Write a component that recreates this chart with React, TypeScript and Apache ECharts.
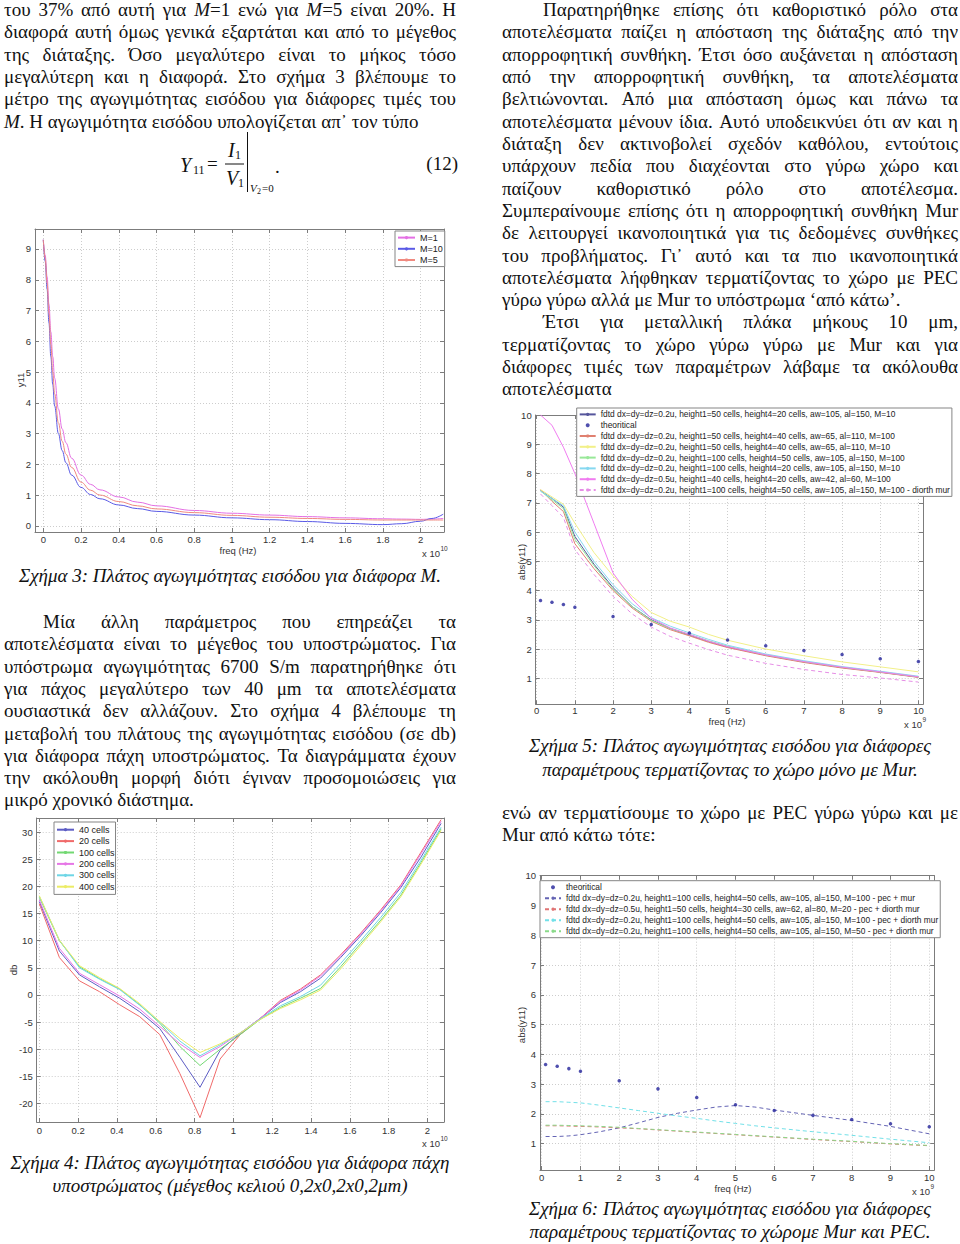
import React, { useEffect, useRef } from 'react';
import * as echarts from 'echarts';

// ================= TEXT CONTENT =================
type Ln = { t: string; indent?: boolean; last?: boolean };

const topLeftLines: Ln[] = [
  { t: 'του 37% από αυτή για *M*=1 ενώ για *M*=5 είναι 20%. Η' },
  { t: 'διαφορά αυτή όμως γενικά εξαρτάται και από το μέγεθος' },
  { t: 'της διάταξης. Όσο μεγαλύτερο είναι το μήκος τόσο' },
  { t: 'μεγαλύτερη και η διαφορά. Στο σχήμα 3 βλέπουμε το' },
  { t: 'μέτρο της αγωγιμότητας εισόδου για διάφορες τιμές του' },
  { t: '*M*. Η αγωγιμότητα εισόδου υπολογίζεται απ᾽ τον τύπο', last: true },
];

const topRightLines: Ln[] = [
  { t: 'Παρατηρήθηκε επίσης ότι καθοριστικό ρόλο στα', indent: true },
  { t: 'αποτελέσματα παίζει η απόσταση της διάταξης από την' },
  { t: 'απορροφητική συνθήκη. Έτσι όσο αυξάνεται η απόσταση' },
  { t: 'από την απορροφητική συνθήκη, τα αποτελέσματα' },
  { t: 'βελτιώνονται. Από μια απόσταση όμως και πάνω τα' },
  { t: 'αποτελέσματα μένουν ίδια. Αυτό υποδεικνύει ότι αν και η' },
  { t: 'διάταξη δεν ακτινοβολεί σχεδόν καθόλου, εντούτοις' },
  { t: 'υπάρχουν πεδία που διαχέονται στο γύρω χώρο και' },
  { t: 'παίζουν καθοριστικό ρόλο στο αποτέλεσμα.' },
  { t: 'Συμπεραίνουμε επίσης ότι η απορροφητική συνθήκη Mur' },
  { t: 'δε λειτουργεί ικανοποιητικά για τις δεδομένες συνθήκες' },
  { t: 'του προβλήματος. Γι᾽ αυτό και τα πιο ικανοποιητικά' },
  { t: 'αποτελέσματα λήφθηκαν τερματίζοντας το χώρο με PEC' },
  { t: 'γύρω γύρω αλλά με Mur το υπόστρωμα ‘από κάτω’.', last: true },
  { t: 'Έτσι για μεταλλική πλάκα μήκους 10 μm,', indent: true },
  { t: 'τερματίζοντας το χώρο γύρω γύρω με Mur και για' },
  { t: 'διάφορες τιμές των παραμέτρων λάβαμε τα ακόλουθα' },
  { t: 'αποτελέσματα', last: true },
];

const midLeftLines: Ln[] = [
  { t: 'Μία άλλη παράμετρος που επηρεάζει τα', indent: true },
  { t: 'αποτελέσματα είναι το μέγεθος του υποστρώματος. Για' },
  { t: 'υπόστρωμα αγωγιμότητας 6700 S/m παρατηρήθηκε ότι' },
  { t: 'για πάχος μεγαλύτερο των 40 μm τα αποτελέσματα' },
  { t: 'ουσιαστικά δεν αλλάζουν. Στο σχήμα 4 βλέπουμε τη' },
  { t: 'μεταβολή του πλάτους της αγωγιμότητας εισόδου (σε db)' },
  { t: 'για διάφορα πάχη υποστρώματος. Τα διαγράμματα έχουν' },
  { t: 'την ακόλουθη μορφή διότι έγιναν προσομοιώσεις για' },
  { t: 'μικρό χρονικό διάστημα.', last: true },
];

const midRightLines: Ln[] = [
  { t: 'ενώ αν τερματίσουμε το χώρο με PEC γύρω γύρω και με' },
  { t: 'Mur από κάτω τότε:', last: true },
];

const caption3 = ['Σχήμα 3: Πλάτος αγωγιμότητας εισόδου για διάφορα M.'];
const caption4 = ['Σχήμα 4: Πλάτος αγωγιμότητας εισόδου για διάφορα πάχη', 'υποστρώματος (μέγεθος κελιού 0,2x0,2x0,2μm)'];
const caption5 = ['Σχήμα 5: Πλάτος αγωγιμότητας εισόδου για διάφορες', 'παραμέτρους τερματίζοντας το χώρο μόνο με Mur.'];
const caption6 = ['Σχήμα 6: Πλάτος αγωγιμότητας εισόδου για διάφορες', 'παραμέτρους τερματίζοντας το χώρομε Mur και PEC.'];

// ================= FIGURE 3 =================
const fig3Names = ['M=1', 'M=10', 'M=5'];
const fig3Freq = [0, 0.01, 0.02, 0.03, 0.04, 0.05, 0.06, 0.08, 0.1, 0.12, 0.15, 0.2, 0.25, 0.3, 0.4, 0.5, 0.6, 0.8, 1.0, 1.2, 1.4, 1.6, 1.8, 1.9, 2.0, 2.06, 2.12];
const fig3M1 = [9.3, 8.8, 8.1, 7.2, 6.3, 5.5, 4.8, 3.8, 3.15, 2.7, 2.2, 1.65, 1.35, 1.17, 0.94, 0.77, 0.65, 0.5, 0.41, 0.35, 0.3, 0.26, 0.23, 0.22, 0.21, 0.22, 0.24];
const fig3M10 = [9.3, 8.6, 7.7, 6.6, 5.5, 4.6, 3.9, 3.0, 2.45, 2.05, 1.65, 1.25, 1.02, 0.88, 0.68, 0.56, 0.47, 0.35, 0.26, 0.2, 0.14, 0.08, 0.04, 0.07, 0.15, 0.24, 0.38];
const fig3M5 = [9.3, 8.7, 7.9, 6.9, 5.9, 5.0, 4.3, 3.35, 2.75, 2.33, 1.9, 1.42, 1.16, 1.0, 0.79, 0.65, 0.55, 0.43, 0.34, 0.28, 0.24, 0.21, 0.19, 0.19, 0.19, 0.19, 0.19];
const fig3XTicks = [0, 0.2, 0.4, 0.6, 0.8, 1, 1.2, 1.4, 1.6, 1.8, 2];
const fig3YTicks = [0, 1, 2, 3, 4, 5, 6, 7, 8, 9];

// ================= FIGURE 4 =================
const fig4Names = ['40 cells', '20 cells', '100 cells', '200 cells', '300 cells', '400 cells'];
const fig4Freq = [0, 0.1035, 0.207, 0.3105, 0.414, 0.5175, 0.621, 0.7245, 0.828, 0.9315, 1.035, 1.1385, 1.242, 1.3455, 1.449, 1.5525, 1.656, 1.7595, 1.863, 1.9665, 2.07];
const fig4C40 = [17.2, 8.1, 3.7, 1.5, -0.6, -3.1, -6.2, -11.5, -17.0, -10.2, -7.1, -4.3, -1.4, 0.6, 3.1, 6.9, 10.9, 15.2, 19.8, 25.4, 31.6];
const fig4C20 = [16.8, 6.9, 2.6, 0.6, -1.8, -4.0, -7.3, -14.5, -22.6, -11.8, -7.3, -4.3, -1.0, 1.1, 3.7, 7.4, 11.4, 15.7, 20.3, 26.3, 32.3];
const fig4C100 = [18.0, 10.0, 5.2, 3.0, 1.1, -1.8, -5.2, -9.5, -13.0, -10.0, -7.3, -4.5, -2.3, -0.6, 1.2, 5.2, 9.5, 13.8, 18.4, 24.4, 30.6];
const fig4C200 = [17.5, 8.6, 4.0, 1.9, -0.2, -2.6, -5.8, -9.0, -11.5, -9.5, -7.0, -4.3, -1.2, 0.9, 3.5, 7.2, 11.2, 15.5, 20.1, 26.0, 32.0];
const fig4C300 = [18.2, 10.1, 5.0, 2.9, 1.0, -1.9, -5.0, -8.5, -11.2, -9.2, -7.0, -4.4, -2.0, -0.3, 1.8, 5.8, 10.0, 14.3, 18.9, 24.8, 30.9];
const fig4C400 = [18.3, 10.1, 5.4, 3.2, 1.2, -1.6, -4.9, -8.0, -10.6, -9.0, -7.0, -4.5, -2.5, -0.9, 0.9, 4.8, 9.1, 13.5, 18.1, 24.1, 30.3];
const fig4XTicks = [0, 0.2, 0.4, 0.6, 0.8, 1, 1.2, 1.4, 1.6, 1.8, 2];
const fig4YTicks = [-20, -15, -10, -5, 0, 5, 10, 15, 20, 25, 30];

// ================= FIGURE 5 / 6 =================
const theoName = 'theoritical';
const theoFreq = [0.1, 0.4, 0.7, 1, 2, 3, 4, 5, 6, 7, 8, 9, 10];
const theoVals = [3.66, 3.6, 3.52, 3.43, 3.11, 2.84, 2.55, 2.31, 2.11, 1.95, 1.81, 1.67, 1.57];
const fig56XTicks = [0, 1, 2, 3, 4, 5, 6, 7, 8, 9, 10];
const fig56YTicks = [1, 2, 3, 4, 5, 6, 7, 8, 9, 10];

const fig5Names = [
  'fdtd dx=dy=dz=0.2u, height1=50 cells, height4=20 cells, aw=105, al=150, M=10',
  theoName,
  'fdtd dx=dy=dz=0.2u, height1=50 cells, height4=40 cells, aw=65, al=110, M=100',
  'fdtd dx=dy=dz=0.2u, height1=50 cells, height4=40 cells, aw=65, al=110, M=10',
  'fdtd dx=dy=dz=0.2u, height1=100 cells, height4=50 cells, aw=105, al=150, M=100',
  'fdtd dx=dy=dz=0.2u, height1=100 cells, height4=20 cells, aw=105, al=150, M=10',
  'fdtd dx=dy=dz=0.5u, height1=40 cells, height4=20 cells, aw=42, al=60, M=100',
  'fdtd dx=dy=dz=0.2u, height1=100 cells, height4=50 cells, aw=105, al=150, M=100 - diorth mur',
];
const fig5Freq = [0.1, 0.4, 0.7, 1, 1.5, 2, 2.5, 3, 3.5, 4, 4.5, 5, 6, 7, 8, 9, 10];
const fig5A = [7.42, 7.15, 6.85, 5.85, 4.9, 4.1, 3.45, 3.0, 2.7, 2.48, 2.26, 2.07, 1.79, 1.56, 1.37, 1.21, 1.04];
const fig5B = [7.45, 7.05, 6.7, 5.6, 4.75, 4.0, 3.4, 2.95, 2.66, 2.45, 2.23, 2.05, 1.77, 1.54, 1.35, 1.2, 1.03];
const fig5C = [7.45, 7.2, 6.95, 6.3, 5.3, 4.5, 3.8, 3.25, 2.95, 2.75, 2.5, 2.3, 2.0, 1.77, 1.56, 1.39, 1.22];
const fig5D = [7.4, 7.1, 6.8, 5.75, 4.85, 4.05, 3.45, 2.98, 2.7, 2.5, 2.28, 2.1, 1.8, 1.57, 1.38, 1.22, 1.05];
const fig5E = [7.4, 7.15, 6.9, 6.0, 5.0, 4.2, 3.55, 3.07, 2.78, 2.55, 2.33, 2.13, 1.83, 1.6, 1.4, 1.24, 1.07];
const fig5F = [10.0, 9.65, 8.9, 8.0, 6.3, 4.6, 3.7, 3.05, 2.72, 2.5, 2.27, 2.08, 1.8, 1.57, 1.38, 1.22, 1.05];
const fig5G = [7.3, 6.9, 6.5, 5.4, 4.55, 3.8, 3.2, 2.75, 2.43, 2.2, 1.98, 1.79, 1.51, 1.3, 1.13, 1.01, 0.87];

const fig6Names = [
  theoName,
  'fdtd dx=dy=dz=0.2u, height1=100 cells, height4=50 cells, aw=105, al=150, M=100 - pec + mur',
  'fdtd dx=dy=dz=0.5u, height1=50 cells, height4=30 cells, aw=62, al=80, M=20 - pec + diorth mur',
  'fdtd dx=dy=dz=0.2u, height1=100 cells, height4=50 cells, aw=105, al=150, M=100 - pec + diorth mur',
  'fdtd dx=dy=dz=0.2u, height1=100 cells, height4=50 cells, aw=105, al=150, M=50 - pec + diorth mur',
];
const fig6Freq = [0.1, 0.4, 0.7, 1, 1.5, 2, 2.5, 3, 3.5, 4, 4.5, 5, 5.5, 6, 7, 8, 9, 10];
const fig6A = [1.24, 1.24, 1.26, 1.3, 1.4, 1.53, 1.7, 1.88, 2.02, 2.13, 2.23, 2.28, 2.23, 2.13, 1.95, 1.78, 1.58, 1.33];
const fig6B = [1.6, 1.6, 1.59, 1.58, 1.56, 1.53, 1.5, 1.46, 1.42, 1.38, 1.34, 1.3, 1.26, 1.22, 1.14, 1.07, 0.99, 0.93];
const fig6C = [2.41, 2.41, 2.39, 2.37, 2.29, 2.2, 2.11, 2.02, 1.93, 1.85, 1.76, 1.68, 1.6, 1.53, 1.4, 1.28, 1.15, 1.03];
const fig6D = [1.62, 1.62, 1.61, 1.6, 1.58, 1.55, 1.51, 1.47, 1.43, 1.39, 1.35, 1.31, 1.27, 1.23, 1.15, 1.08, 1.0, 0.94];

// ================= STYLE CONSTANTS =================
const SERIF = "'Liberation Serif', 'Times New Roman', serif";
const SANS = "'Liberation Sans', Arial, sans-serif";
const BODY = 19;
const INK = '#111';
const FRAME = '#7c7c7c';
const GRIDC = '#cdcdcd';
const TICKFS = 9.5;

let mctx: CanvasRenderingContext2D | null = null;
function tw(t: string, italic: boolean, size: number, family = SERIF) {
  if (!mctx) mctx = document.createElement('canvas').getContext('2d');
  mctx!.font = `${italic ? 'italic ' : ''}${size}px ${family}`;
  return mctx!.measureText(t).width;
}

function txt(x: number, y: number, text: string, size: number, italic = false, align = 'left', family = SERIF, color = INK, rotation = 0) {
  return {
    type: 'text', x, y, rotation, silent: true, z: 20,
    style: {
      text, fontSize: size, fontFamily: family, fontStyle: italic ? 'italic' : 'normal', fill: color,
      textAlign: align, align, textVerticalAlign: 'middle', verticalAlign: 'middle',
    },
  };
}

function para(lines: Ln[], x0: number, x1: number, y0: number, pitch: number, indent: number, out: any[]) {
  lines.forEach((ln, k) => {
    const y = y0 + k * pitch;
    const start = x0 + (ln.indent ? indent : 0);
    const words = ln.t.split(' ').map((w) => w.split('*').map((t, i) => ({ t, it: i % 2 === 1 })).filter((s) => s.t));
    const widths = words.map((ws) => ws.reduce((a, s) => a + tw(s.t, s.it, BODY), 0));
    const sum = widths.reduce((a, b) => a + b, 0);
    const gap = !ln.last && words.length > 1 ? (x1 - start - sum) / (words.length - 1) : tw(' ', false, BODY);
    let x = start;
    words.forEach((ws) => {
      ws.forEach((s) => {
        out.push(txt(x, y, s.t, BODY, s.it));
        x += tw(s.t, s.it, BODY);
      });
      x += gap;
    });
  });
}

const fmt = (v: number) => String(Math.round(v * 1000) / 1000);

function axesFor(gi: number, xmin: number, xmax: number, xt: number[], ymin: number, ymax: number, yt: number[], xMargin: number) {
  const line = { show: true, onZero: false, lineStyle: { color: FRAME, width: 1 } };
  const tick = (vals: number[]) => ({ show: true, inside: true, length: 4, customValues: vals, lineStyle: { color: FRAME, width: 1 } });
  const lab = (vals: number[], margin: number) => ({ show: true, customValues: vals, formatter: fmt, color: '#333', fontFamily: SANS, fontSize: TICKFS, margin });
  const split = { show: true, lineStyle: { color: GRIDC, width: 1, type: [1, 2] } };
  const x = [
    { type: 'value', gridIndex: gi, position: 'bottom', min: xmin, max: xmax, axisLine: line, axisTick: tick(xt), axisLabel: lab(xt, xMargin), splitLine: split },
    { type: 'value', gridIndex: gi, position: 'top', min: xmin, max: xmax, axisLine: line, axisTick: tick(xt), axisLabel: { show: false }, splitLine: { show: false } },
  ];
  const y = [
    { type: 'value', gridIndex: gi, position: 'left', min: ymin, max: ymax, axisLine: line, axisTick: tick(yt), axisLabel: lab(yt, 4), splitLine: split },
    { type: 'value', gridIndex: gi, position: 'right', min: ymin, max: ymax, axisLine: line, axisTick: tick(yt), axisLabel: { show: false }, splitLine: { show: false } },
  ];
  return { x, y };
}

function lineS(name: string, gi: number, xs: number[], ys: number[], color: string, dashed = false, smooth: any = false) {
  return {
    type: 'line', name, xAxisIndex: gi * 2, yAxisIndex: gi * 2,
    data: xs.map((x, i) => [x, ys[i]]),
    showSymbol: false, symbol: 'none', smooth, smoothMonotone: 'x', clip: true, silent: true,
    lineStyle: { color, width: 1, type: dashed ? [4, 3] : 'solid' },
    itemStyle: { color }, emphasis: { disabled: true }, z: 3,
  };
}

function dotS(gi: number) {
  return {
    type: 'scatter', name: theoName, xAxisIndex: gi * 2, yAxisIndex: gi * 2,
    data: theoFreq.map((x, i) => [x, theoVals[i]]),
    symbol: 'circle', symbolSize: 3.5, itemStyle: { color: '#23239a' }, silent: true, z: 4,
  };
}

function legendFor(names: string[], left: number, top: number, fontSize: number, rowH: number, itemW: number, padding: number[]) {
  return {
    show: true, orient: 'vertical', left, top, data: names, selectedMode: false,
    backgroundColor: '#fff', borderColor: '#858585', borderWidth: 1, borderRadius: 0,
    padding, itemGap: 0, itemWidth: itemW, itemHeight: 4,
    textStyle: { fontFamily: SANS, fontSize, color: '#222', lineHeight: rowH, height: rowH },
    z: 10,
  };
}

function buildOption() {
  const g: any[] = [];

  // ---- body text ----
  para(topLeftLines, 4, 456, 9.5, 22.32, 40, g);
  para(topRightLines, 502, 958, 9.5, 22.32, 41, g);
  para(midLeftLines, 4, 456, 621.5, 22.3, 39, g);
  para(midRightLines, 502, 958, 812, 22.8, 40, g);

  // ---- captions ----
  caption3.forEach((c, i) => g.push(txt(230, 575 + i * 23, c, BODY, true, 'center')));
  caption4.forEach((c, i) => g.push(txt(230, 1162 + i * 23, c, BODY, true, 'center')));
  caption5.forEach((c, i) => g.push(txt(730, 745 + i * 24, c, BODY, true, 'center')));
  caption6.forEach((c, i) => g.push(txt(730, 1208 + i * 23, c, BODY, true, 'center')));

  // ---- equation (12) ----
  g.push(txt(180, 165, 'Y', 20, true));
  g.push(txt(193, 170, '11', 12));
  g.push(txt(207, 163, '=', 19));
  g.push(txt(228, 150, 'I', 20, true));
  g.push(txt(235, 155, '1', 12));
  g.push({ type: 'line', silent: true, z: 20, shape: { x1: 225, y1: 164, x2: 244, y2: 164 }, style: { stroke: INK, lineWidth: 1 } });
  g.push(txt(226, 178, 'V', 20, true));
  g.push(txt(238, 183, '1', 12));
  g.push({ type: 'line', silent: true, z: 20, shape: { x1: 247.5, y1: 132, x2: 247.5, y2: 192 }, style: { stroke: INK, lineWidth: 1 } });
  g.push(txt(250, 188, 'V', 11, true));
  g.push(txt(257, 191, '2', 8));
  g.push(txt(262, 188, '=0', 11));
  g.push(txt(275, 166, '.', 19));
  g.push(txt(458, 163, '(12)', 19, false, 'right'));

  // ---- axis annotations ----
  const ax = (x: number, y: number, t: string, rot = 0) => g.push(txt(x, y, t, TICKFS, false, 'center', SANS, '#333', rot));
  const sci = (x: number, y: number, exp: string) => {
    g.push(txt(x, y, 'x 10', TICKFS, false, 'left', SANS, '#333'));
    g.push(txt(x + tw('x 10', false, TICKFS, SANS) + 0.5, y - 5, exp, 6.5, false, 'left', SANS, '#333'));
  };
  ax(20, 380, 'y11', Math.PI / 2);
  ax(238, 550, 'freq (Hz)');
  sci(422, 553, '10');
  ax(13, 970, 'db', Math.PI / 2);
  sci(422, 1143, '10');
  ax(521, 562, 'abs(y11)', Math.PI / 2);
  ax(727, 721, 'freq (Hz)');
  sci(904, 724, '9');
  ax(521, 1025, 'abs(y11)', Math.PI / 2);
  ax(733, 1188, 'freq (Hz)');
  sci(912, 1191, '9');

  // ---- grids & axes ----
  const grids = [
    { left: 35, top: 229, width: 409, height: 303 },
    { left: 36.7, top: 818, width: 407.3, height: 304 },
    { left: 535.7, top: 415, width: 387.3, height: 289.3 },
    { left: 540, top: 875.7, width: 394.3, height: 294.3 },
  ].map((gr) => ({ ...gr, containLabel: false, outerBoundsMode: 'none', show: false }));

  const a3 = axesFor(0, -0.044, 2.124, fig3XTicks, -0.2, 9.65, fig3YTicks, 2);
  const a4 = axesFor(1, -0.0134, 2.085, fig4XTicks, -23.4, 32.6, fig4YTicks, 3);
  const a5 = axesFor(2, -0.026, 10.12, fig56XTicks, 0.11, 10.0, fig56YTicks, 1);
  const a6 = axesFor(3, -0.044, 10.13, fig56XTicks, 0.115, 10.0, fig56YTicks, 2);

  const series: any[] = [
    lineS(fig3Names[0], 0, fig3Freq, fig3M1, '#e46fe4', false, 0.4),
    lineS(fig3Names[1], 0, fig3Freq, fig3M10, '#5a5ae6', false, 0.4),
    lineS(fig3Names[2], 0, fig3Freq, fig3M5, '#f08a80', false, 0.4),

    lineS(fig4Names[0], 1, fig4Freq, fig4C40, '#5c5cc4'),
    lineS(fig4Names[1], 1, fig4Freq, fig4C20, '#f06a6a'),
    lineS(fig4Names[2], 1, fig4Freq, fig4C100, '#72d872'),
    lineS(fig4Names[3], 1, fig4Freq, fig4C200, '#e676e6'),
    lineS(fig4Names[4], 1, fig4Freq, fig4C300, '#6ed6e6'),
    lineS(fig4Names[5], 1, fig4Freq, fig4C400, '#ecec66'),

    lineS(fig5Names[0], 2, fig5Freq, fig5A, '#56569c'),
    dotS(2),
    lineS(fig5Names[2], 2, fig5Freq, fig5B, '#e08070'),
    lineS(fig5Names[3], 2, fig5Freq, fig5C, '#f2f088'),
    lineS(fig5Names[4], 2, fig5Freq, fig5D, '#98e898'),
    lineS(fig5Names[5], 2, fig5Freq, fig5E, '#86d8f0'),
    lineS(fig5Names[6], 2, fig5Freq, fig5F, '#f07cf0'),
    lineS(fig5Names[7], 2, fig5Freq, fig5G, '#e68ee6', true),

    dotS(3),
    lineS(fig6Names[1], 3, fig6Freq, fig6A, '#6464b4', true),
    lineS(fig6Names[2], 3, fig6Freq, fig6B, '#e07474', true),
    lineS(fig6Names[3], 3, fig6Freq, fig6C, '#72e0e8', true),
    lineS(fig6Names[4], 3, fig6Freq, fig6D, '#8ada8a', true),
  ];

  const legends = [
    legendFor(fig3Names, 395, 231, 9, 11.2, 17, [1, 2, 1, 2]),
    legendFor(fig4Names, 54, 822, 9, 11.4, 17, [2, 1, 2, 2]),
    legendFor(fig5Names, 576.7, 408, 8.4, 10.8, 16, [1, 2, 1, 2]),
    legendFor(fig6Names, 540, 880.7, 8.4, 11, 16, [1, 2, 1, 4]),
  ];

  return {
    animation: false,
    backgroundColor: '#ffffff',
    grid: grids,
    xAxis: [...a3.x, ...a4.x, ...a5.x, ...a6.x],
    yAxis: [...a3.y, ...a4.y, ...a5.y, ...a6.y],
    legend: legends,
    series,
    graphic: { elements: g },
  };
}

export default function App() {
  const ref = useRef<HTMLDivElement>(null);
  useEffect(() => {
    if (!ref.current) return;
    const chart = echarts.init(ref.current, null, { renderer: 'svg', width: 960, height: 1244 });
    chart.setOption(buildOption() as any);
    return () => chart.dispose();
  }, []);
  return <div ref={ref} style={{ position: 'absolute', left: 0, top: 0, width: 960, height: 1244, background: '#fff' }} />;
}
